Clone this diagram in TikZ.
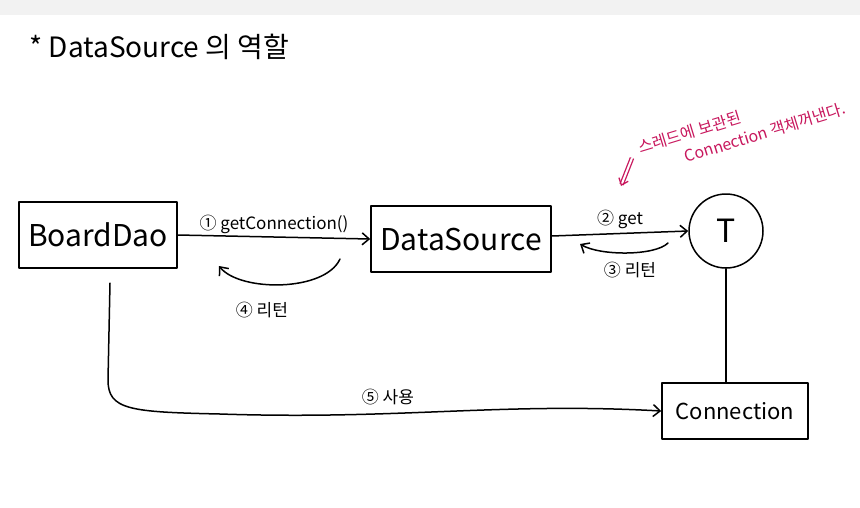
\documentclass[tikz,border=0pt]{standalone}
\usepackage{fontspec}
\setmainfont{Noto Sans CJK KR}
\usetikzlibrary{arrows.meta,calc}
\definecolor{penpink}{HTML}{C8175D}
\tikzset{
  ink/.style={line width=1.5pt, line cap=round, line join=round},
  box/.style={ink, draw, rectangle, inner sep=0pt, font=\fontsize{30}{32}\selectfont},
  arr/.style={ink, -{Straight Barb[length=7pt,width=12pt,line width=1.5pt]}},
  lbl/.style={font=\fontsize{17}{19}\selectfont, inner sep=1pt},
  pink/.style={color=penpink, font=\fontsize{16}{22}\selectfont, rotate=17, align=left}
}
\begin{document}
\begin{tikzpicture}[x=1pt,y=-1pt]
\useasboundingbox (0,0) rectangle (860,507);
\fill[white] (0,0) rectangle (860,507);
\fill[black!5] (0,0) rectangle (860,15);

\node[anchor=west, font=\fontsize{28}{30}\selectfont] (title) at (26,47) {* DataSource 의 역할};

\node[box, minimum width=158pt, minimum height=66pt] (dao) at (98,235) {BoardDao};
\node[box, minimum width=180pt, minimum height=66pt] (ds) at (461,239) {DataSource};
\node[ink, draw, circle, minimum size=74pt, inner sep=0pt, font=\fontsize{32}{34}\selectfont] (t) at (726,231) {T};
\node[box, minimum width=146pt, minimum height=56pt, font=\fontsize{22}{24}\selectfont] (conn) at (735,411) {Connection};

% 1 getConnection
\draw[arr] (dao.east) -- node[lbl, above=2pt] (l1) {① getConnection()} (ds.west);
% 4 return
\coordinate (r4s) at (340,259);
\coordinate (r4e) at (219,266);
\draw[arr] (r4s) .. controls (325,292) and (240,292) .. (r4e);
\node[lbl] (l4) at (262,310) {④ 리턴};

% 2 get
\draw[arr] (ds.east |- 0,236) -- node[lbl, above=3pt] (l2) {② get} (t.west |- 0,231);
% 3 return
\coordinate (r3s) at (668,243);
\coordinate (r3e) at (580,244);
\draw[arr] (r3s) .. controls (655,256) and (600,256) .. (r3e);
\node[lbl] (l3) at (630,270) {③ 리턴};

% T to Connection
\draw[ink] (t.south) -- (conn.north -| t.south);

% 5 use
\coordinate (u0) at (110,283);
\draw[arr] (u0) -- (108,380) .. controls (108,410) and (130,412) .. (220,414)
  .. controls (400,420) and (500,402) .. (conn.west);
\node[lbl] (l5) at (388,397) {⑤ 사용};

% pink annotation
\node[pink] (p) at (742,128) {스레드에 보관된\\\hspace{2.6em}Connection 객체꺼낸다.};
\coordinate (pa) at (632,158);
\coordinate (pb) at (621,186);
\draw[penpink, line width=1.3pt, double distance=2pt, -{Straight Barb[length=6pt,width=10pt]}] (pa) -- (pb);
\end{tikzpicture}
\end{document}
